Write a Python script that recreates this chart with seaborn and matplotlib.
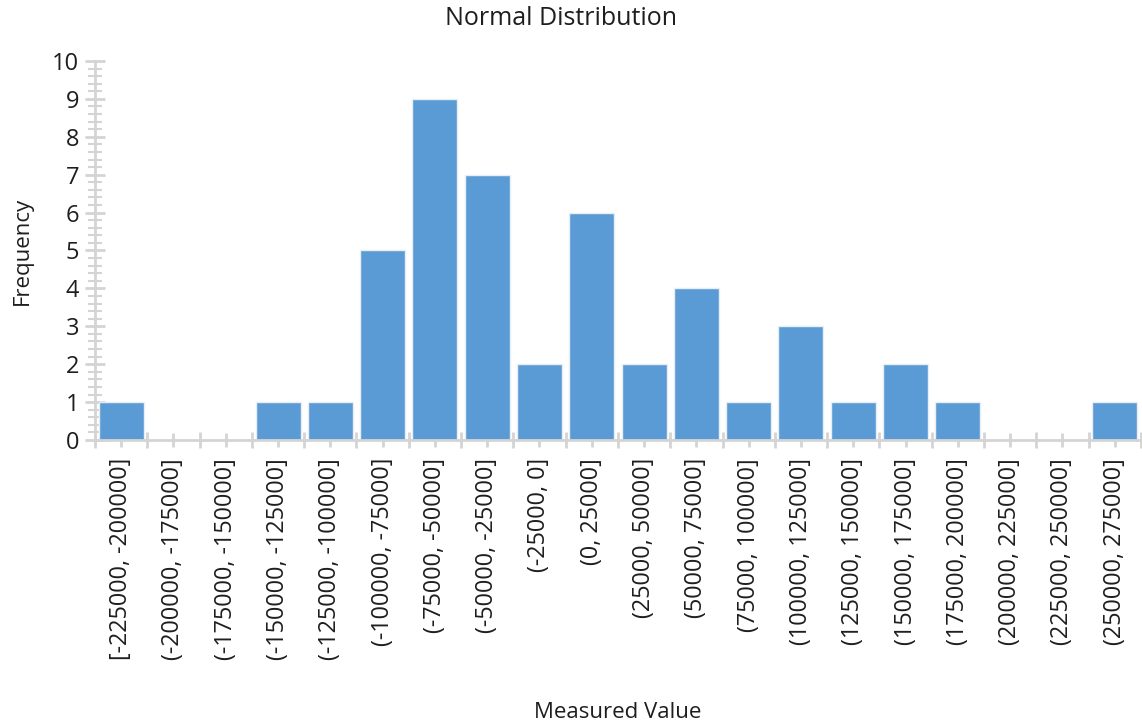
import matplotlib
matplotlib.use("Agg")
import matplotlib.pyplot as plt
import seaborn as sns
import pandas as pd
import numpy as np
from matplotlib.ticker import MultipleLocator, FixedLocator

# Histogram bins and counts
bins = [
    "[-225000, -200000]", "(-200000, -175000]", "(-175000, -150000]",
    "(-150000, -125000]", "(-125000, -100000]", "(-100000, -75000]",
    "(-75000, -50000]", "(-50000, -25000]", "(-25000, 0]", "(0, 25000]",
    "(25000, 50000]", "(50000, 75000]", "(75000, 100000]",
    "(100000, 125000]", "(125000, 150000]", "(150000, 175000]",
    "(175000, 200000]", "(200000, 225000]", "(225000, 250000]",
    "(250000, 275000]",
]
counts = [1, 0, 0, 1, 1, 5, 9, 7, 2, 6, 2, 4, 1, 3, 1, 2, 1, 0, 0, 1]

df = pd.DataFrame({"bin": bins, "count": counts})

sns.set_style("white")
plt.rcParams["font.family"] = ["Open Sans", "DejaVu Sans"]
plt.rcParams["text.color"] = "#1e1e1e"
plt.rcParams["axes.labelcolor"] = "#1e1e1e"

axis_grey = "#d4d4d4"

fig = plt.figure(figsize=(11.42, 7.22), dpi=100)
ax = fig.add_axes([0.0832, 0.3906, 0.9158, 0.5249])

sns.barplot(data=df, x="bin", y="count", color="#5b9bd5", saturation=1,
            width=0.86, edgecolor="#e8eef6", linewidth=1, ax=ax)

ax.set_xlim(-0.5, len(bins) - 0.5)
ax.set_ylim(0, 10)

# axis styling
for side in ["top", "right"]:
    ax.spines[side].set_visible(False)
for side in ["left", "bottom"]:
    ax.spines[side].set_color(axis_grey)
    ax.spines[side].set_linewidth(2)

ax.tick_params(which="both", left=True, bottom=True)
ax.yaxis.set_major_locator(MultipleLocator(1))
ax.yaxis.set_minor_locator(MultipleLocator(0.2))
ax.tick_params(axis="y", which="major", direction="inout", length=15, width=2,
               color=axis_grey, labelcolor="#1e1e1e", labelsize=17, pad=4)
ax.tick_params(axis="y", which="minor", direction="inout", length=10, width=1.5,
               color=axis_grey)

ax.set_xticks(range(len(bins)))
ax.set_xticklabels(bins, rotation=90)
ax.xaxis.set_minor_locator(FixedLocator(np.arange(-0.5, len(bins), 1.0)))
ax.tick_params(axis="x", which="major", direction="inout", length=10, width=2,
               color=axis_grey, labelcolor="#1e1e1e", labelsize=16.8, pad=8)
ax.tick_params(axis="x", which="minor", direction="inout", length=12, width=2,
               color=axis_grey)

ax.set_xlabel("Measured Value", fontsize=16, labelpad=30)
ax.set_ylabel("Frequency", fontsize=16, labelpad=14)
fig.text(0.491, 0.974, "Normal Distribution", fontsize=18, ha="center", va="center")

fig.savefig("out.png", dpi=100)
